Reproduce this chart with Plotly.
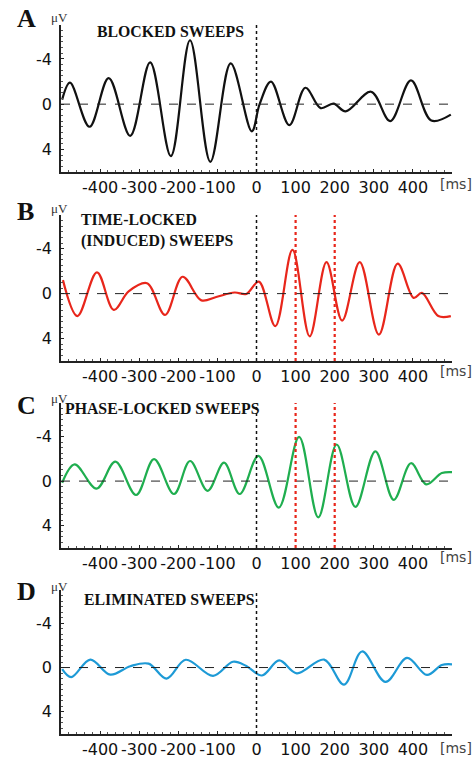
import plotly.graph_objects as go

# ---------------- data ----------------
x_ticks = [-400, -300, -200, -100, 0, 100, 200, 300, 400]
x_tick_labels = ["-400", "-300", "-200", "-100", "0", "100", "200", "300", "400"]
y_ticks = [-4, 0, 4]
y_tick_labels = ["-4", "0", "4"]

t_blocked = [-497, -477, -427, -378, -323, -272, -219, -170, -118, -66, -12, 8, 37, 84,
             125, 164, 197, 228, 293, 342, 395, 447, 497]
v_blocked = [-0.4, -1.9, 2.0, -2.3, 2.8, -3.7, 4.6, -5.65, 5.1, -3.6, 2.4, 0.0, -2.0, 1.85,
             -1.45, 0.35, -0.05, 0.64, -1.1, 1.5, -2.1, 1.45, 0.93]

t_induced = [-495, -458, -408, -365, -327, -280, -234, -189, -141, -103, -56, -26, 6, 48,
             92, 136, 179, 219, 264, 313, 361, 402, 423, 465, 497]
v_induced = [-1.2, 2.0, -1.9, 1.45, -0.2, -0.93, 1.9, -1.5, 0.6, 0.3, -0.1, 0.03, -1.07, 2.9,
             -3.9, 3.8, -2.8, 2.4, -2.8, 3.65, -2.67, 0.38, -0.06, 2.0, 2.0]

t_phase = [-497, -465, -409, -361, -308, -262, -211, -170, -125, -83, -43, 5, 57, 109,
           158, 205, 253, 304, 351, 395, 434, 474, 501]
v_phase = [0.15, -1.5, 0.67, -1.74, 1.25, -1.97, 1.16, -1.8, 0.87, -1.65, 1.16, -2.26, 2.38, -3.97,
           3.25, -3.28, 2.32, -2.67, 1.68, -1.6, 0.29, -0.72, -0.8]

t_elim = [-497, -474, -425, -374, -323, -276, -230, -181, -111, -60, -26, 14, 58, 103,
          173, 224, 270, 330, 385, 436, 474, 500]
v_elim = [0.15, 0.87, -0.72, 0.64, -0.12, -0.35, 1.0, -0.7, 0.75, -0.52, -0.14, 0.72, -0.64, 0.52,
          -0.72, 1.54, -1.45, 1.3, -0.87, 0.67, -0.23, -0.29]

panel_letters = ["A", "B", "C", "D"]
panel_titles = ["BLOCKED SWEEPS", "TIME-LOCKED<br>(INDUCED) SWEEPS", "PHASE-LOCKED SWEEPS", "ELIMINATED SWEEPS"]
red_markers = [100, 200]

# ---------------- layout geometry ----------------
W, H = 474, 758
L, R, T, B = 61, 22, 25, 24
PW, PH = W - L - R, H - T - B


def px(x):
    return (x - L) / PW


def py(y):
    return (H - B - y) / PH


panels_px = [(25, 172), (215, 361), (403, 548), (590, 734)]
colors = ["#111111", "#e8261b", "#1fae4f", "#1d9ad6"]
series = [(t_blocked, v_blocked), (t_induced, v_induced), (t_phase, v_phase), (t_elim, v_elim)]
letter_pos = [(26, 18), (25, 211), (26, 405), (26, 591)]
mu_pos = [(59, 17), (59, 208), (59, 398), (59, 586)]
title_pos = [(95, 32), (79, 230), (63, 408), (82, 599)]
ms_pos = [(474, 184), (474, 371), (474, 557), (474, 748)]
YR = [6, -7]
XR = [-500, 500]

fig = go.Figure()
shapes = []
annotations = []
tick_font = dict(family="DejaVu Sans", size=16, color="#111111")

for i, ((t, v), col) in enumerate(zip(series, colors)):
    n = "" if i == 0 else str(i + 1)
    xa, ya = "x" + n, "y" + n
    fig.add_trace(go.Scatter(x=t, y=v, mode="lines", xaxis=xa, yaxis=ya,
                             line=dict(color=col, width=2.2, shape="spline", smoothing=1.0),
                             showlegend=False, hoverinfo="skip"))
    top, bot = panels_px[i]
    fig.layout["xaxis" + n] = dict(
        domain=[0, 1], anchor=ya, range=XR, tickmode="array", tickvals=x_ticks,
        ticktext=x_tick_labels, tickfont=tick_font, tickangle=0, automargin=False,
        showgrid=False, zeroline=False,
        showline=True, linecolor="#222", linewidth=1.5, ticks="inside", ticklen=3,
        tickcolor="#222", minor=dict(dtick=20, ticks="inside", ticklen=2, tickcolor="#555"),
        ticklabelstandoff=0)
    fig.layout["yaxis" + n] = dict(
        domain=[py(bot), py(top)], anchor=xa, range=YR, tickmode="array", tickvals=y_ticks,
        ticktext=y_tick_labels, tickfont=tick_font, automargin=False,
        showgrid=False, zeroline=False,
        showline=True, linecolor="#222", linewidth=1.5, ticks="inside", ticklen=3,
        tickcolor="#222", minor=dict(dtick=0.5, ticks="inside", ticklen=2, tickcolor="#555"),
        ticklabelstandoff=4)
    # zero dashed line
    shapes.append(dict(type="line", xref=xa, yref=ya, x0=XR[0], x1=XR[1], y0=0, y1=0,
                       line=dict(color="#222", width=1, dash="dash")))
    # stimulus onset dotted line
    shapes.append(dict(type="line", xref=xa, yref=ya, x0=0, x1=0, y0=YR[0], y1=YR[1],
                       line=dict(color="#111", width=1.5, dash="dot")))
    if i in (1, 2):
        for m in red_markers:
            shapes.append(dict(type="line", xref=xa, yref=ya, x0=m, x1=m, y0=YR[0], y1=YR[1],
                               line=dict(color="#e8261b", width=2.2, dash="dot")))
    lx, ly = letter_pos[i]
    annotations.append(dict(text="<b>%s</b>" % panel_letters[i], xref="paper", yref="paper",
                            x=px(lx), y=py(ly), showarrow=False, xanchor="center", yanchor="middle",
                            font=dict(family="Liberation Serif", size=26, color="#111")))
    mx, my = mu_pos[i]
    annotations.append(dict(text="μV", xref="paper", yref="paper", x=px(mx), y=py(my),
                            showarrow=False, xanchor="center", yanchor="middle",
                            font=dict(family="Liberation Serif", size=13, color="#333")))
    tx, ty = title_pos[i]
    annotations.append(dict(text="<b>%s</b>" % panel_titles[i], xref="paper", yref="paper",
                            x=px(tx), y=py(ty), showarrow=False, xanchor="left", yanchor="middle",
                            align="left",
                            font=dict(family="Liberation Serif", size=15.8, color="#111")))
    sx, sy = ms_pos[i]
    annotations.append(dict(text="[ms]", xref="paper", yref="paper", x=px(sx), y=py(sy),
                            showarrow=False, xanchor="right", yanchor="middle",
                            font=dict(family="DejaVu Sans", size=14, color="#444")))

fig.update_layout(width=W, height=H, margin=dict(l=L, r=R, t=T, b=B),
                  paper_bgcolor="white", plot_bgcolor="white",
                  shapes=shapes, annotations=annotations)

fig.write_html("out.html")
